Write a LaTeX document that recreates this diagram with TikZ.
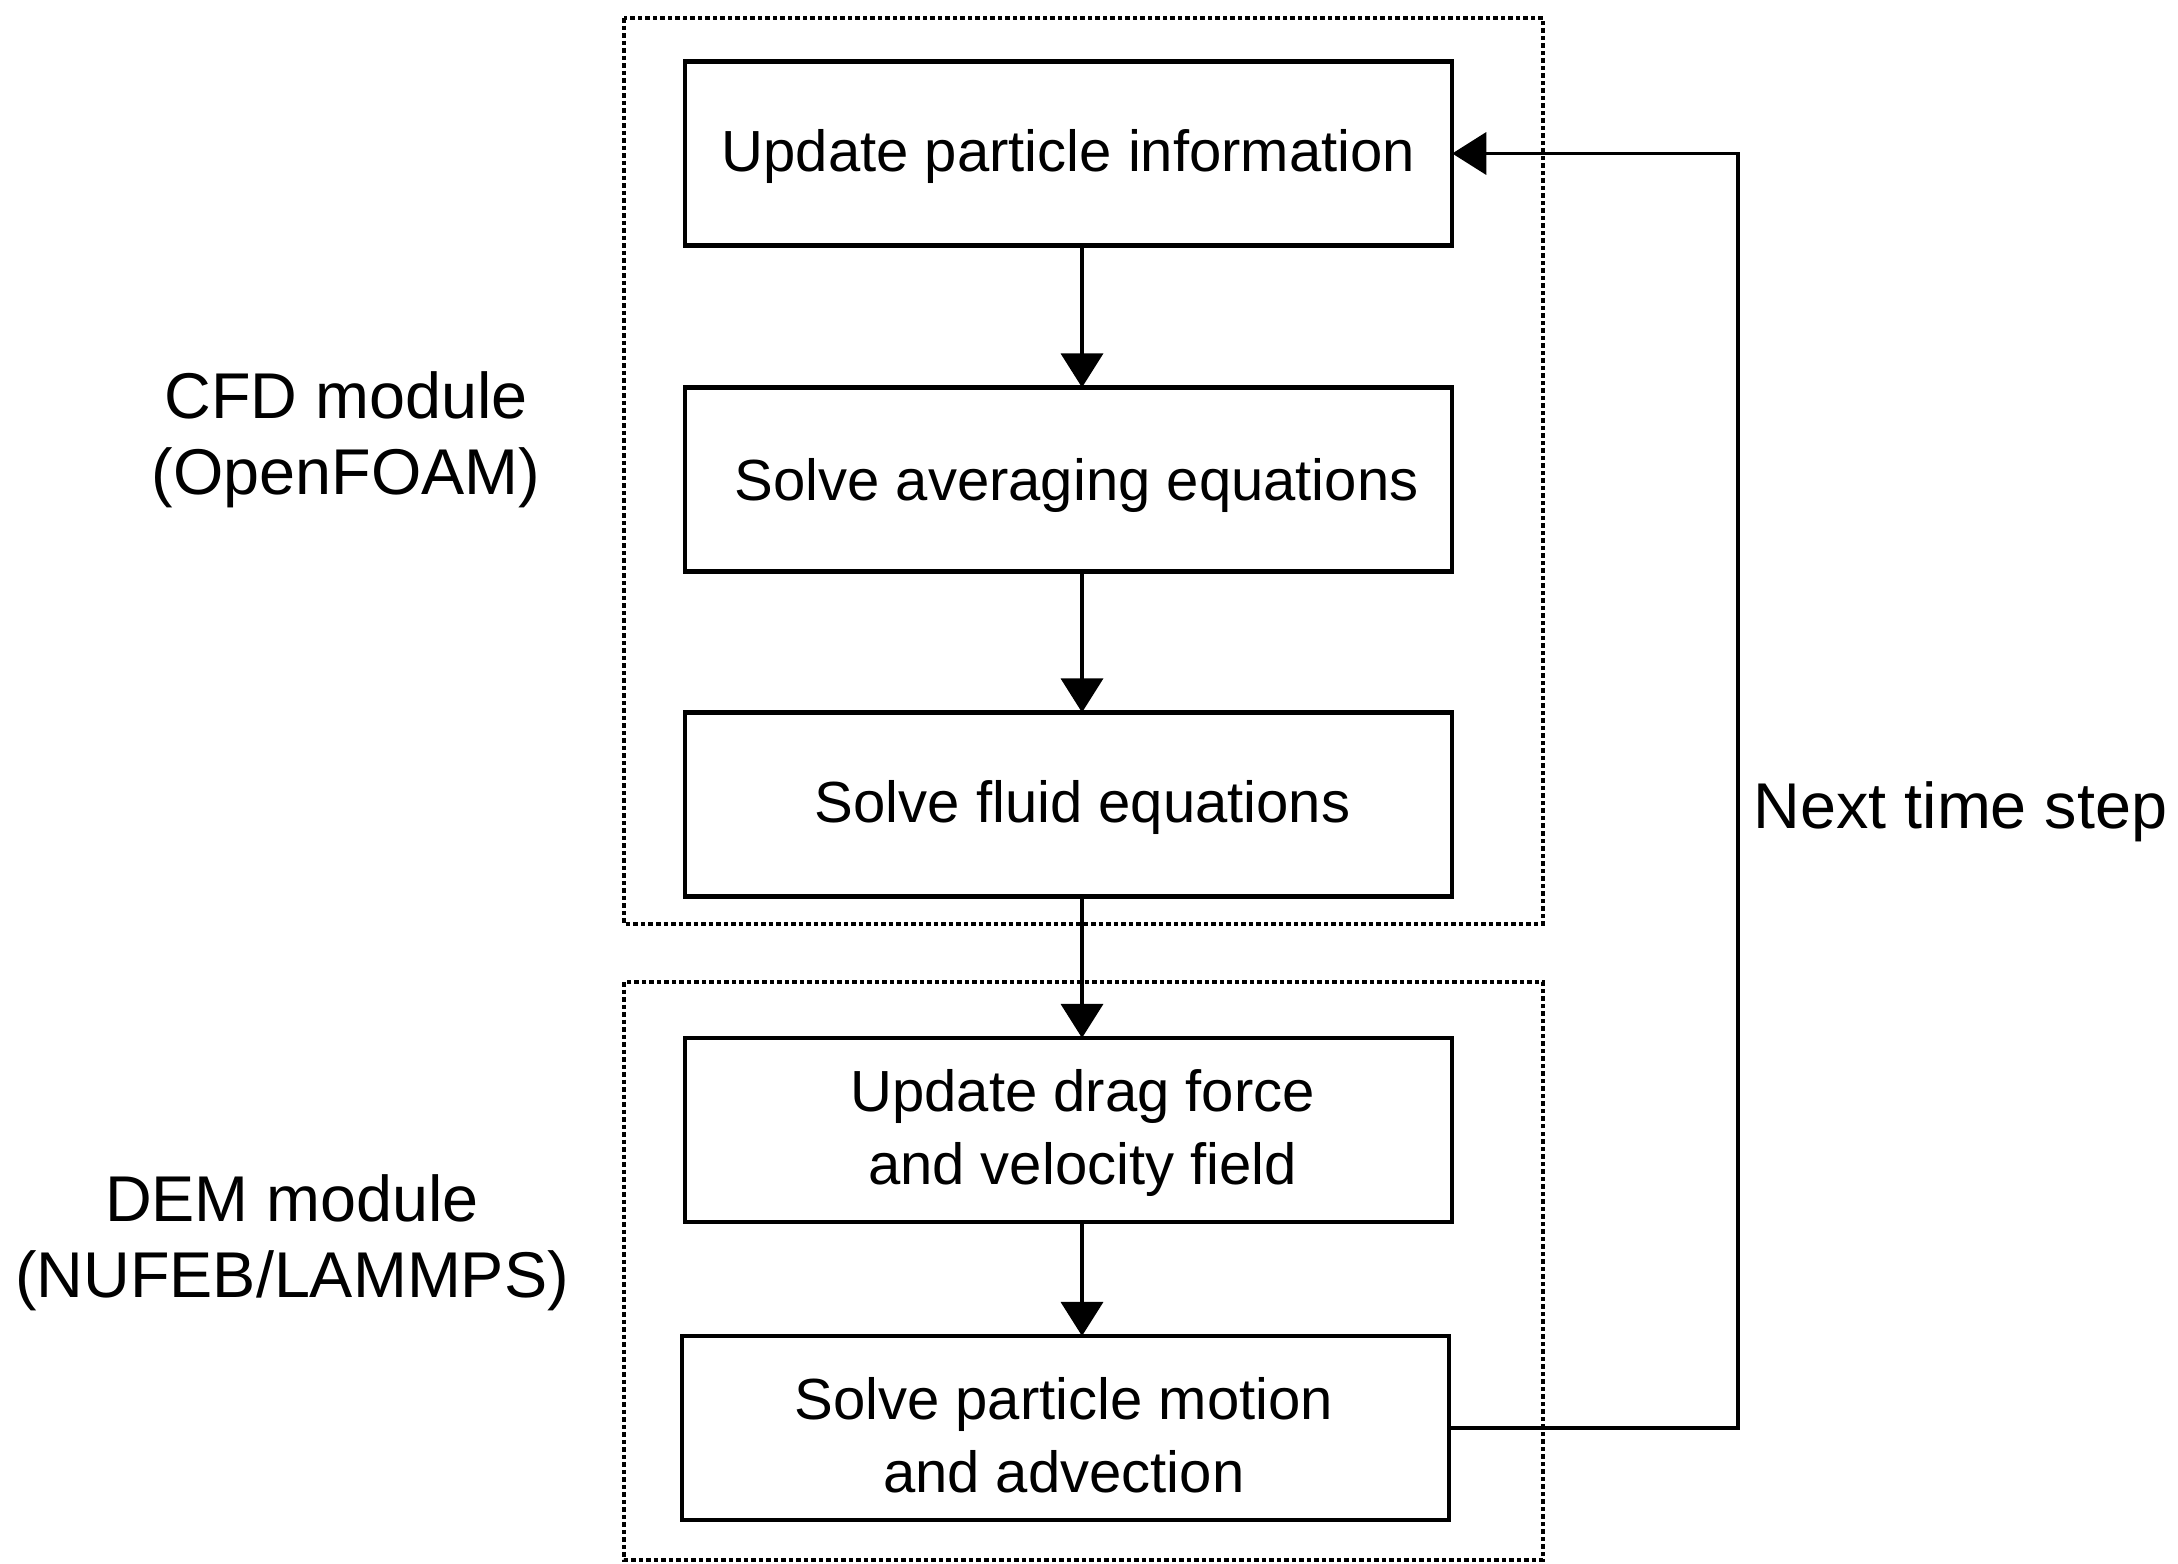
\documentclass[tikz,border=0pt]{standalone}
\usepackage{fontspec}
\setmainfont{Liberation Sans}
\usetikzlibrary{arrows.meta}
% shift a line of text by (#1 right, #2 down) without changing its box
\newcommand\nudge[3]{\raisebox{-#2}[\height][\depth]{\hspace*{#1}#3\hspace*{-#1}}}
\begin{document}
\begin{tikzpicture}[x=0.01cm,y=-0.01cm,
  stepbox/.style={draw,line width=1.2pt,minimum width=7.67cm,minimum height=1.84cm,
    outer sep=0pt,inner sep=0pt,align=center,font=\fontsize{16.5}{20.7}\selectfont},
  grp/.style={draw,line width=1.1pt,dash pattern=on 0.045cm off 0.03cm},
  arr/.style={line width=1pt,-{Triangle[length=0.34cm,width=0.42cm]}},
  side/.style={align=center,font=\fontsize{18.4}{21.6}\selectfont,inner sep=0pt}]
\useasboundingbox (0,0) rectangle (2178,1563);

% module frames
\draw[grp] (624,18) rectangle (1543,924);
\draw[grp] (624,982) rectangle (1543,1560);

% process steps
\node[stepbox] (b1) at (1068.5,153.5) {\nudge{0pt}{0.85pt}{Update particle information}};
\node[stepbox] (b2) at (1068.5,479.5) {\nudge{2.3pt}{1.6pt}{Solve averaging equations}};
\node[stepbox] (b3) at (1068.5,804.5) {\nudge{4pt}{0.85pt}{Solve fluid equations}};
\node[stepbox] (b4) at (1068.5,1130) {\nudge{4pt}{0.85pt}{Update drag force}\\\nudge{4pt}{0.85pt}{and velocity field}};
\node[stepbox] (b5) at (1065.5,1428) {\nudge{-0.5pt}{2pt}{Solve particle motion}\\\nudge{-0.5pt}{2pt}{and advection}};

% module labels
\node[side] (cfd) at (346,440) {CFD module\\(OpenFOAM)};
\node[side] (dem) at (292,1243) {DEM module\\(NUFEB/LAMMPS)};
\node[side,anchor=west] (next) at (1753,812) {Next time step};

% flow
\coordinate (ax) at (1082,0);
\coordinate (loopx) at (1738,800);
\draw[arr] (b1.south -| ax) -- (b2.north -| ax);
\draw[arr] (b2.south -| ax) -- (b3.north -| ax);
\draw[arr] (b3.south -| ax) -- (b4.north -| ax);
\draw[arr] (b4.south -| ax) -- (b5.north -| ax);
\draw[arr] (b5.east) -| (loopx) |- (b1.east);
\end{tikzpicture}
\end{document}
